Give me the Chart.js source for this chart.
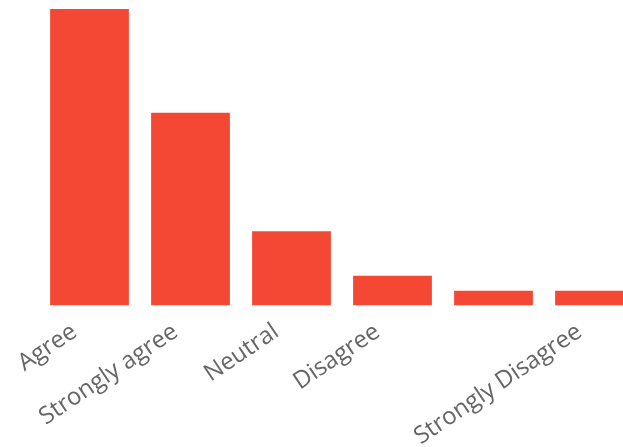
<!DOCTYPE html>
<html>
<head>
<meta charset="utf-8">
<script src="https://cdn.jsdelivr.net/npm/chart.js@4"></script>
<style>
  html, body { margin: 0; padding: 0; background: #fff; overflow: hidden; }
  #wrap { position: relative; width: 650px; height: 463px; }
</style>
</head>
<body>
<div id="wrap"><canvas id="chart"></canvas></div>
<script>
const categories = ['Agree', 'Strongly agree', 'Neutral', 'Disagree', '', 'Strongly Disagree'];
const responses = [20, 13, 5, 2, 1, 1];

new Chart(document.getElementById('chart'), {
    type: 'bar',
    data: {
        labels: categories,
        datasets: [{
            data: responses,
            backgroundColor: '#f44834',
            categoryPercentage: 0.8,
            barPercentage: 0.975
        }]
    },
    options: {
        responsive: true,
        maintainAspectRatio: false,
        animation: false,
        layout: { padding: { top: 9, left: 39, right: 5 } },
        plugins: {
            legend: { display: false },
            tooltip: { enabled: false }
        },
        scales: {
            x: {
                grid: { display: false, drawTicks: false },
                border: { display: false },
                ticks: {
                    color: '#666',
                    autoSkip: false,
                    minRotation: 34,
                    maxRotation: 34,
                    padding: 12,
                    labelOffset: -15,
                    font: { size: 24, family: 'Open Sans' }
                }
            },
            y: {
                display: false,
                min: 0,
                max: 20
            }
        }
    }
});
</script>
</body>
</html>
